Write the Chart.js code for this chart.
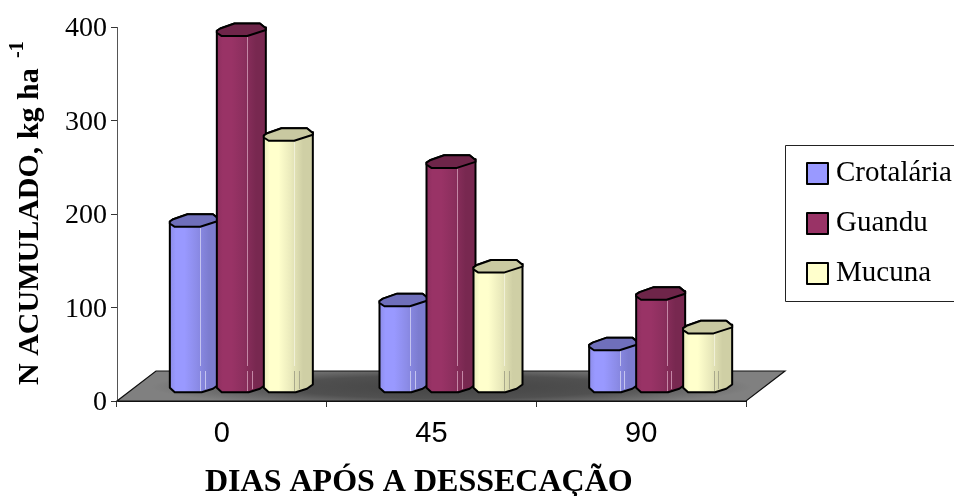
<!DOCTYPE html>
<html>
<head>
<meta charset="utf-8">
<title>N acumulado</title>
<script src="https://cdn.jsdelivr.net/npm/chart.js@4/dist/chart.umd.js"></script>
<style>
  html, body { margin: 0; padding: 0; background: #fff; overflow: hidden; }
  canvas { display: block; }
</style>
</head>
<body>
<canvas id="myChart" width="954" height="496"></canvas>
<script>
var dias = ["0", "45", "90"],
  crotalaria = [177, 92, 45],
  guandu = [381, 240, 99],
  mucuna = [269, 128, 63],
  yTicks = [0, 100, 200, 300, 400];

var serif = '"Liberation Serif", serif',
  depthX = 39,
  depthY = 30,
  capH = 6.3;

// front, mid, dark side and top colours for each series
var colors = [
  { front: "#9999ff", mid: "#8c8ce8", side: "#7c7cd0", top: "#6f6fbb", line: "#c4c4f0", foot: "#c4c4f0" },
  { front: "#993366", mid: "#8c2f5e", side: "#782850", top: "#6e2549", line: "#c487a6", foot: "#c487a6" },
  { front: "#ffffcc", mid: "#eaeabc", side: "#cfcfa5", top: "#c9c9a1", line: "#f0f0d8", foot: "#a8a88c" }
];

function topPath(c, l, w, y) {
  c.moveTo(l, y + 1);
  c.lineTo(l + 0.07 * w, y - 1.3);
  c.lineTo(l + 0.36 * w, y - capH);
  c.lineTo(l + 0.88 * w, y - capH);
  c.lineTo(l + 0.98 * w, y - 2.3);
  c.lineTo(l + w, y - 2.3);
}

function drawFloor(c, chart) {
  var x = chart.scales.x,
    y0 = chart.scales.y.getPixelForValue(0);
  c.save();
  c.beginPath();
  c.moveTo(x.left, y0);
  c.lineTo(x.right, y0);
  c.lineTo(x.right + depthX, y0 - depthY);
  c.lineTo(x.left + depthX, y0 - depthY);
  c.closePath();
  c.fillStyle = "#808080";
  c.fill();
  c.save();
  c.clip();
  // dark patch in the middle of the floor
  var cx = (x.left + x.right) / 2 + 20,
    cy = y0 - 14;
  c.translate(cx, cy);
  c.scale(1, 0.07);
  var g = c.createRadialGradient(0, 0, 0, 0, 0, 300);
  g.addColorStop(0, "#444444");
  g.addColorStop(0.55, "#505050");
  g.addColorStop(1, "#808080");
  c.fillStyle = g;
  c.fillRect(-400, -400, 800, 800);
  c.restore();
  c.strokeStyle = "#111";
  c.lineWidth = 1.2;
  c.stroke();
  c.restore();
}

function drawColumn(c, bar, col, base) {
  var w = 49,
    l = bar.x + depthX / 2 - w / 2,
    top = bar.y - depthY / 2,
    bot = base - depthY / 2;

  // body, with the wavy foot of the faceted column
  c.beginPath();
  topPath(c, l, w, top);
  c.lineTo(l + w, bot - 1.5);
  c.lineTo(l + 0.88 * w, bot + 2.7);
  c.lineTo(l + 0.65 * w, bot + capH);
  c.lineTo(l + 0.1 * w, bot + capH);
  c.lineTo(l, bot + 1.7);
  c.closePath();
  var g = c.createLinearGradient(l, 0, l + w, 0);
  g.addColorStop(0, col.mid);
  g.addColorStop(0.12, col.front);
  g.addColorStop(0.3, col.front);
  g.addColorStop(0.55, col.mid);
  g.addColorStop(0.8, col.side);
  g.addColorStop(1, col.side);
  c.fillStyle = g;
  c.fill();
  c.strokeStyle = "#000";
  c.lineWidth = 2;
  c.lineJoin = "round";
  c.stroke();

  // thin highlights on the facets
  var x1 = Math.round(l + 0.62 * w) + 0.5,
    x2 = Math.round(l + 0.72 * w) + 0.5;
  c.lineWidth = 1;
  c.strokeStyle = col.line;
  c.beginPath();
  c.moveTo(x1, top + capH + 1);
  c.lineTo(x1, Math.max(bot - 20, top + capH + 1));
  c.stroke();
  c.strokeStyle = col.foot;
  c.beginPath();
  c.moveTo(x1, bot - 15);
  c.lineTo(x1, bot + 5);
  c.moveTo(x2, bot - 15);
  c.lineTo(x2, bot + 3);
  c.stroke();

  // cap
  c.beginPath();
  topPath(c, l, w, top);
  c.lineTo(l + w, top + 0.3);
  c.lineTo(l + 0.62 * w, top + capH);
  c.lineTo(l + 0.1 * w, top + capH);
  c.lineTo(l, top + 3);
  c.closePath();
  c.fillStyle = col.top;
  c.fill();
  c.strokeStyle = "#000";
  c.lineWidth = 2;
  c.stroke();
}

function drawLegend(c, chart) {
  c.save();
  c.fillStyle = "#fff";
  c.strokeStyle = "#222";
  c.lineWidth = 1;
  c.fillRect(785.5, 145.5, 200, 156);
  c.strokeRect(785.5, 145.5, 200, 156);
  c.font = "29px " + serif;
  c.textBaseline = "middle";
  chart.data.datasets.forEach(function(ds, i) {
    var y = 163 + i * 50;
    c.fillStyle = colors[i].front;
    c.fillRect(807, y, 21, 21);
    c.strokeStyle = "#000";
    c.lineWidth = 2;
    c.strokeRect(807, y, 21, 21);
    c.fillStyle = "#000";
    c.fillText(ds.label, 836, y + 10);
  });
  c.restore();
}

function drawTitles(c) {
  c.save();
  c.fillStyle = "#000";
  c.textBaseline = "alphabetic";
  c.textAlign = "left";
  c.font = "bold 32px " + serif;
  c.fillText("DIAS APÓS A DESSECAÇÃO", 205, 491);
  c.translate(38, 385);
  c.rotate(-Math.PI / 2);
  c.font = "bold 30px " + serif;
  c.fillText("N ACUMULADO, kg ha", 0, 0);
  c.font = "bold 20px " + serif;
  c.fillText("-1", 327, -15);
  c.restore();
}

var columns3d = {
  id: "columns3d",
  afterDatasetsDraw: function(chart) {
    var c = chart.ctx,
      base = chart.scales.y.getPixelForValue(0);
    drawFloor(c, chart);
    dias.forEach(function(d, k) {
      chart.data.datasets.forEach(function(ds, i) {
        drawColumn(c, chart.getDatasetMeta(i).data[k], colors[i], base);
      });
    });
    drawLegend(c, chart);
    drawTitles(c);
  }
};

var myChart = new Chart(document.getElementById("myChart"), {
  type: "bar",
  plugins: [columns3d],
  data: {
    labels: dias,
    datasets: [
      { label: "Crotalária", data: crotalaria, backgroundColor: "transparent" },
      { label: "Guandu", data: guandu, backgroundColor: "transparent" },
      { label: "Mucuna", data: mucuna, backgroundColor: "transparent" }
    ]
  },
  options: {
    responsive: false,
    animation: false,
    events: [],
    layout: { padding: { top: 27, right: 208, left: 0, bottom: 0 } },
    plugins: { legend: { display: false }, title: { display: false }, tooltip: { enabled: false } },
    datasets: { bar: { categoryPercentage: 0.6725, barPercentage: 1 } },
    scales: {
      x: {
        afterFit: function(s) { s.height = 95; },
        grid: { drawOnChartArea: false, color: "#333", tickLength: 6, tickColor: "#333" },
        border: { color: "#111" },
        ticks: { color: "#000", padding: 10, maxRotation: 0, font: { family: '"Liberation Sans", sans-serif', size: 29 } }
      },
      y: {
        min: 0,
        max: 400,
        afterFit: function(s) { s.width = 117; },
        afterBuildTicks: function(s) {
          s.ticks = yTicks.map(function(v) { return { value: v }; });
        },
        grid: { drawOnChartArea: false, color: "#333", tickLength: 6, tickColor: "#333" },
        border: { color: "#555" },
        ticks: { color: "#000", padding: 4, labelOffset: 2, font: { family: serif, size: 28 } }
      }
    }
  }
});
</script>
</body>
</html>
